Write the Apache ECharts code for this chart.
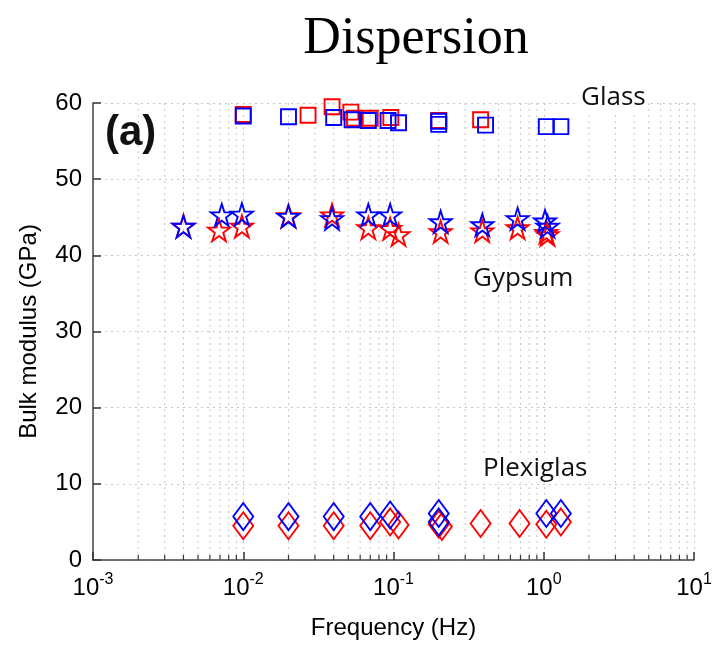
<!DOCTYPE html>
<html>
<head>
<meta charset="utf-8">
<script src="https://cdn.jsdelivr.net/npm/echarts@6/dist/echarts.min.js"></script>
<style>
  html, body {margin: 0; padding: 0; background: #fff;}
  #main {width: 715px; height: 646px;}
</style>
</head>
<body>
<div id="main"></div>
<script>
// frequency (Hz) / bulk modulus (GPa), red and blue runs
const glassRedF = [0.01, 0.027, 0.039, 0.052, 0.055, 0.07, 0.096, 0.2, 0.38];
const glassRedV = [58.5, 58.4, 59.5, 58.8, 58.0, 58.0, 58.1, 57.7, 57.8];
const glassBlueF = [0.01, 0.02, 0.04, 0.053, 0.068, 0.092, 0.108, 0.2, 0.2, 0.41, 1.04, 1.3];
const glassBlueV = [58.3, 58.2, 58.1, 57.8, 57.7, 57.7, 57.4, 57.6, 57.2, 57.1, 56.9, 56.9];

const gypsumRedF = [0.004, 0.0069, 0.0098, 0.02, 0.039, 0.068, 0.095, 0.108, 0.206, 0.39, 0.67, 1.04, 1.06];
const gypsumRedV = [43.8, 43.3, 43.8, 45.2, 45.3, 43.6, 43.5, 42.7, 43.1, 43.2, 43.6, 43.0, 42.7];
const gypsumBlueF = [0.004, 0.0072, 0.0098, 0.02, 0.039, 0.068, 0.095, 0.206, 0.39, 0.67, 1.02, 1.06];
const gypsumBlueV = [43.8, 45.3, 45.4, 45.1, 44.8, 45.3, 45.3, 44.4, 44.0, 44.8, 44.5, 43.8];

const plexiRedF = [0.01, 0.02, 0.04, 0.07, 0.095, 0.108, 0.2, 0.21, 0.38, 0.69, 1.04, 1.3];
const plexiRedV = [4.5, 4.5, 4.5, 4.5, 5.0, 4.6, 4.7, 4.4, 4.8, 4.8, 4.7, 5.0];
const plexiBlueF = [0.01, 0.02, 0.04, 0.07, 0.095, 0.2, 0.2, 1.04, 1.3];
const plexiBlueV = [5.7, 5.7, 5.7, 5.7, 5.9, 6.1, 5.0, 6.1, 6.1];

const minorTicks = [
  0.002, 0.003, 0.004, 0.005, 0.006, 0.007, 0.008, 0.009,
  0.02, 0.03, 0.04, 0.05, 0.06, 0.07, 0.08, 0.09,
  0.2, 0.3, 0.4, 0.5, 0.6, 0.7, 0.8, 0.9,
  2, 3, 4, 5, 6, 7, 8, 9
];

const RED = '#ff0000';
const BLUE = '#0000ff';
const STAR = 'path://M50,0 L61.2,34.5 L97.6,34.5 L68.2,55.9 L79.4,90.5 L50,69.1 L20.6,90.5 L31.8,55.9 L2.4,34.5 L38.8,34.5 Z';

const zip = (f, v) => f.map((x, i) => [x, v[i]]);

const hollow = (name, f, v, color, symbol, size, z) => ({
  name: name,
  type: 'scatter',
  data: zip(f, v),
  symbol: symbol,
  symbolSize: size,
  z: z,
  silent: true,
  itemStyle: {color: 'rgba(0,0,0,0)', borderColor: color, borderWidth: 1.9, opacity: 1},
  emphasis: {disabled: true}
});

const note = (text, left, top) => ({
  type: 'text', left: left, top: top, z: 50,
  style: {text: text, font: '26px "Open Sans"', fill: '#111', backgroundColor: '#fff', padding: [0, 2]}
});

const chart = echarts.init(document.getElementById('main'));
chart.setOption({
  animation: false,
  backgroundColor: '#fff',
  title: {
    text: 'Dispersion',
    left: 411,
    textAlign: 'center',
    top: 8,
    textStyle: {fontFamily: 'Liberation Serif', fontSize: 52, fontWeight: 'normal', color: '#000'}
  },
  grid: {left: 93, right: 21, top: 103, bottom: 86},
  xAxis: {
    type: 'log',
    logBase: 10,
    min: 0.001,
    max: 10,
    name: 'Frequency (Hz)',
    nameLocation: 'middle',
    nameGap: 56,
    nameTextStyle: {fontFamily: 'Liberation Sans', fontSize: 24, color: '#000'},
    axisLine: {onZero: false, lineStyle: {color: '#444', width: 1.5}},
    axisTick: {inside: true, length: 8, lineStyle: {color: '#333', width: 1.5}},
    splitLine: {show: true, lineStyle: {color: '#c8c8c8', type: [2, 4], width: 1}},
    axisLabel: {
      margin: 12,
      formatter: v => '{b|10}{s|' + Math.round(Math.log10(v)) + '}',
      rich: {
        b: {fontFamily: 'Liberation Sans', fontSize: 24, color: '#000', verticalAlign: 'bottom'},
        s: {fontFamily: 'Liberation Sans', fontSize: 16, color: '#000', verticalAlign: 'top', padding: [0, 0, 12, 0]}
      }
    }
  },
  yAxis: {
    type: 'value',
    min: 0,
    max: 60,
    interval: 10,
    name: 'Bulk modulus (GPa)',
    nameLocation: 'middle',
    nameGap: 52,
    nameTextStyle: {fontFamily: 'Liberation Sans', fontSize: 24, color: '#000'},
    axisLine: {show: true, lineStyle: {color: '#444', width: 1.5}},
    axisTick: {show: true, inside: true, length: 8, lineStyle: {color: '#333', width: 1.5}},
    splitLine: {show: true, lineStyle: {color: '#c8c8c8', type: [2, 4], width: 1}},
    axisLabel: {margin: 11, fontFamily: 'Liberation Sans', fontSize: 24, color: '#000'}
  },
  graphic: [
    {type: 'text', left: 105, top: 112, z: 50,
     style: {text: '(a)', font: 'bold 42px "Liberation Sans"', fill: '#111'}},
    note('Glass', 579, 85),
    note('Gypsum', 471, 266),
    note('Plexiglas', 481, 456)
  ],
  series: [
    {
      name: 'minor',
      type: 'custom',
      silent: true,
      z: 1,
      data: minorTicks.map(v => [v, 0]),
      renderItem: (params, api) => {
        const cs = params.coordSys;
        const x = api.coord([api.value(0), 0])[0];
        const bottom = cs.y + cs.height;
        return {
          type: 'group',
          children: [
            {type: 'line', shape: {x1: x, y1: cs.y, x2: x, y2: bottom},
             style: {stroke: '#c8c8c8', lineWidth: 1, lineDash: [2, 4]}},
            {type: 'line', shape: {x1: x, y1: bottom, x2: x, y2: bottom - 5},
             style: {stroke: '#333', lineWidth: 1.2}}
          ]
        };
      }
    },
    hollow('Glass red', glassRedF, glassRedV, RED, 'rect', 15, 2),
    hollow('Glass blue', glassBlueF, glassBlueV, BLUE, 'rect', 15, 3),
    hollow('Gypsum red', gypsumRedF, gypsumRedV, RED, STAR, 22, 2),
    hollow('Gypsum blue', gypsumBlueF, gypsumBlueV, BLUE, STAR, 22, 3),
    hollow('Plexiglas red', plexiRedF, plexiRedV, RED, 'diamond', [20, 27], 2),
    hollow('Plexiglas blue', plexiBlueF, plexiBlueV, BLUE, 'diamond', [20, 27], 3)
  ]
});
</script>
</body>
</html>
